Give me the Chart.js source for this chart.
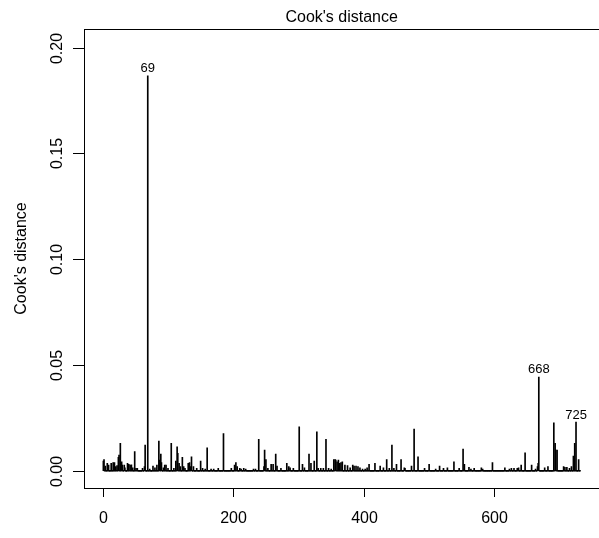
<!DOCTYPE html>
<html>
<head>
<meta charset="utf-8">
<script src="https://cdn.jsdelivr.net/npm/chart.js@4.4.1/dist/chart.umd.min.js"></script>
<style>
html, body { margin: 0; padding: 0; background: #fff; }
canvas { display: block; }
</style>
</head>
<body>
<canvas id="cookPlot" width="599" height="538"></canvas>
<script>
// number of observations in the model
var nObs = 731;

// observations with a readable Cook's distance (others are ~0)
var obsIdx = [1, 2, 4, 7, 9, 13, 16, 18, 20, 22, 24, 25, 27, 29, 30, 33, 34, 38, 40, 42,
  44, 46, 49, 51, 53, 61, 64, 65, 69, 72, 77, 80, 83, 86, 87, 89, 90, 93, 95, 97,
  100, 105, 109, 112, 114, 115, 117, 119, 122, 124, 126, 131, 133, 135, 136, 139, 144, 150, 153, 157,
  160, 166, 170, 177, 185, 197, 202, 204, 206, 210, 212, 216, 219, 231, 234, 239, 247, 248, 250, 253,
  258, 261, 265, 267, 273, 282, 285, 287, 292, 301, 306, 309, 316, 319, 324, 328, 330, 334, 338, 342,
  346, 350, 354, 356, 357, 359, 361, 363, 365, 367, 371, 375, 379, 383, 385, 388, 391, 394, 398, 402,
  405, 408, 417, 425, 430, 435, 439, 443, 446, 450, 457, 462, 463, 473, 477, 483, 493, 500, 510, 516,
  522, 528, 538, 546, 552, 554, 561, 564, 569, 580, 582, 597, 616, 623, 626, 630, 635, 637, 641, 647,
  657, 663, 666, 667, 668, 677, 682, 691, 693, 694, 696, 706, 708, 711, 715, 718, 721, 723, 725, 729];
var obsCook = [0.0046, 0.0053, 0.0022, 0.0035, 0.0027, 0.0035, 0.0039, 0.0038, 0.0019, 0.0024, 0.0063, 0.0074, 0.0129, 0.0042, 0.0027, 0.0027, 0.0014, 0.0035, 0.0030, 0.0027,
  0.0028, 0.0014, 0.0090, 0.0011, 0.0011, 0.0011, 0.0019, 0.0121, 0.1866, 0.0008, 0.0022, 0.0014, 0.0027, 0.0140, 0.0050, 0.0079, 0.0038, 0.0014, 0.0027, 0.0027,
  0.0011, 0.0129, 0.0011, 0.0046, 0.0113, 0.0082, 0.0035, 0.0019, 0.0063, 0.0019, 0.0011, 0.0035, 0.0038, 0.0019, 0.0066, 0.0019, 0.0011, 0.0046, 0.0011, 0.0008,
  0.0108, 0.0008, 0.0008, 0.0011, 0.0176, 0.0011, 0.0027, 0.0039, 0.0019, 0.0011, 0.0008, 0.0011, 0.0008, 0.0008, 0.0008, 0.0148, 0.0019, 0.0097, 0.0053, 0.0011,
  0.0030, 0.0030, 0.0079, 0.0022, 0.0011, 0.0035, 0.0019, 0.0014, 0.0011, 0.0208, 0.0030, 0.0014, 0.0079, 0.0035, 0.0046, 0.0184, 0.0011, 0.0011, 0.0011, 0.0148,
  0.0011, 0.0008, 0.0053, 0.0053, 0.0050, 0.0042, 0.0050, 0.0035, 0.0038, 0.0042, 0.0027, 0.0024, 0.0014, 0.0027, 0.0022, 0.0022, 0.0019, 0.0014, 0.0008, 0.0008,
  0.0014, 0.0030, 0.0035, 0.0022, 0.0014, 0.0053, 0.0011, 0.0121, 0.0011, 0.0030, 0.0053, 0.0014, 0.0011, 0.0022, 0.0197, 0.0066, 0.0011, 0.0030, 0.0008, 0.0022,
  0.0011, 0.0014, 0.0042, 0.0011, 0.0102, 0.0030, 0.0016, 0.0008, 0.0011, 0.0014, 0.0008, 0.0039, 0.0014, 0.0008, 0.0011, 0.0011, 0.0011, 0.0014, 0.0027, 0.0085,
  0.0027, 0.0008, 0.0019, 0.0035, 0.0443, 0.0014, 0.0019, 0.0226, 0.0129, 0.0097, 0.0097, 0.0019, 0.0016, 0.0016, 0.0011, 0.0019, 0.0069, 0.0129, 0.0230, 0.0053];

// the three labelled observations
var labelIdx = [69, 668, 725];

var xTicks = [0, 200, 400, 600];
var yTicks = [0, 0.05, 0.10, 0.15, 0.20];
var yTickLabels = ["0.00", "0.05", "0.10", "0.15", "0.20"];

var mainTitle = "Cook's distance";
var yTitle = "Cook's distance";

// full series 1..n
var points = [];
for (var i = 1; i <= nObs; i++) {
  var k = obsIdx.indexOf(i);
  points.push({ x: i, y: k >= 0 ? obsCook[k] : 0 });
}

// R-style limits: ylim = c(0, 1.075*max), then 4% extension on both axes
var yTop = Math.max.apply(null, obsCook) * 1.075;
var xExt = (nObs - 1) * 0.04;
var yExt = yTop * 0.04;

var FONT = '"Liberation Sans", Arial, sans-serif';

var rAxes = {
  id: 'rAxes',
  afterDraw: function (chart) {
    var ctx = chart.ctx;
    var a = chart.chartArea;
    var xs = chart.scales.x, ys = chart.scales.y;
    ctx.save();
    ctx.strokeStyle = '#000';
    ctx.fillStyle = '#000';
    ctx.lineWidth = 1;

    // box
    ctx.strokeRect(Math.round(a.left) + 0.5, Math.round(a.top) + 0.5,
      Math.round(a.right) - Math.round(a.left), Math.round(a.bottom) - Math.round(a.top));

    // x axis
    ctx.font = '16px ' + FONT;
    ctx.textAlign = 'center';
    ctx.textBaseline = 'alphabetic';
    xTicks.forEach(function (t) {
      var px = Math.round(xs.getPixelForValue(t)) + 0.5;
      ctx.beginPath();
      ctx.moveTo(px, Math.round(a.bottom));
      ctx.lineTo(px, Math.round(a.bottom) + 9);
      ctx.stroke();
      ctx.fillText(String(t), px, 523);
    });

    // y axis, labels rotated like R's las=0
    yTicks.forEach(function (t, j) {
      var py = Math.round(ys.getPixelForValue(t)) + 0.5;
      ctx.beginPath();
      ctx.moveTo(Math.round(a.left) - 11, py);
      ctx.lineTo(Math.round(a.left), py);
      ctx.stroke();
      ctx.save();
      ctx.translate(62, py);
      ctx.rotate(-Math.PI / 2);
      ctx.fillText(yTickLabels[j], 0, 0);
      ctx.restore();
    });

    // titles
    ctx.fillText(mainTitle, (a.left + a.right) / 2, 22);
    ctx.save();
    ctx.translate(25.5, (a.top + a.bottom) / 2);
    ctx.rotate(-Math.PI / 2);
    ctx.fillText(yTitle, 0, 0);
    ctx.restore();

    // ids of the largest values
    ctx.font = '13px ' + FONT;
    labelIdx.forEach(function (id) {
      var v = obsCook[obsIdx.indexOf(id)];
      ctx.fillText(String(id), xs.getPixelForValue(id), ys.getPixelForValue(v) - 3.5);
    });
    ctx.restore();
  }
};

new Chart(document.getElementById('cookPlot'), {
  type: 'bar',
  data: {
    datasets: [{
      data: points,
      backgroundColor: '#000',
      borderWidth: 0,
      barThickness: 1,
      minBarLength: 1
    }]
  },
  options: {
    responsive: false,
    animation: false,
    devicePixelRatio: 1,
    layout: { padding: { left: 84.3, top: 29.3, right: -1.5, bottom: 50.3 } },
    plugins: { legend: { display: false }, tooltip: { enabled: false } },
    scales: {
      x: {
        type: 'linear',
        display: false,
        offset: false,
        min: 1 - xExt,
        max: nObs + xExt,
        grid: { display: false }
      },
      y: {
        display: false,
        min: -yExt,
        max: yTop + yExt,
        grid: { display: false }
      }
    }
  },
  plugins: [rAxes]
});
</script>
</body>
</html>
